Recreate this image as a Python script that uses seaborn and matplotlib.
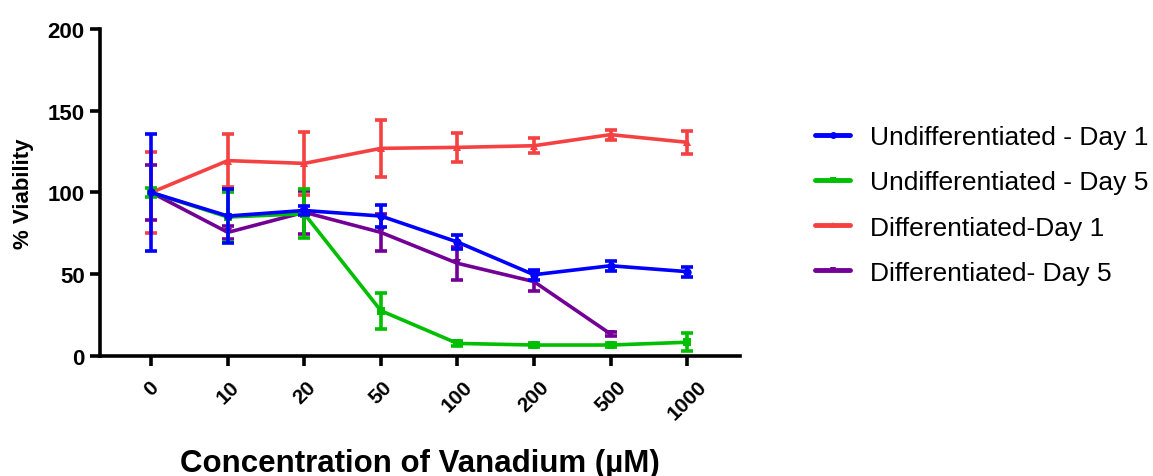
import numpy as np
import pandas as pd
import matplotlib
matplotlib.use("Agg")
import matplotlib.pyplot as plt
import seaborn as sns
from matplotlib.lines import Line2D

categories = ["0", "10", "20", "50", "100", "200", "500", "1000"]

undiff_d1 = [100, 85.6, 89, 85.6, 69.7, 49.7, 55.2, 51.6]
undiff_d1_err = [36, 16.5, 3, 7, 4, 3, 3, 3]

undiff_d5 = [100, 85, 87, 27.7, 7.7, 6.7, 6.7, 8.4]
undiff_d5_err = [3, 15, 15, 11, 1.5, 1.5, 1.5, 5.5]

diff_d1 = [100, 119.5, 117.8, 127, 127.6, 128.6, 135.4, 130.7]
diff_d1_err = [25, 16, 19.5, 17.5, 9, 4.5, 3, 7]

diff_d5 = [100, 75.6, 87.9, 75.6, 56.7, 45.5, 13.5]
diff_d5_err = [17, 4, 13, 11.5, 10, 6, 1]

series_names = ["Undifferentiated - Day 1", "Undifferentiated - Day 5",
                "Differentiated-Day 1", "Differentiated- Day 5"]
series_vals = [undiff_d1, undiff_d5, diff_d1, diff_d5]
series_errs = [undiff_d1_err, undiff_d5_err, diff_d1_err, diff_d5_err]
colors = ["#0000FF", "#00BF00", "#F54141", "#730096"]
markers = ["o", "s", "^", "v"]

sns.set_theme(style="ticks")
plt.rcParams["font.family"] = ["Liberation Sans", "DejaVu Sans"]
plt.rcParams["text.color"] = "black"
plt.rcParams["axes.labelcolor"] = "black"
plt.rcParams["xtick.color"] = "black"
plt.rcParams["ytick.color"] = "black"

rows = []
for name, vals in zip(series_names, series_vals):
    for i, v in enumerate(vals):
        rows.append({"pos": i, "value": v, "series": name})
df = pd.DataFrame(rows)

fig = plt.figure(figsize=(11.53, 4.77), dpi=100)
ax = fig.add_axes([0.0867, 0.2516, 0.555, 0.6855])

draw_order = [3, 2, 1, 0]
for k in draw_order:
    name = series_names[k]
    sub = df[df.series == name]
    sns.lineplot(data=sub, x="pos", y="value", color=colors[k], marker=markers[k],
                 markersize=6, markeredgewidth=0, linewidth=2.6, ax=ax,
                 legend=False, zorder=3 + (3 - k))
    ax.errorbar(sub["pos"], sub["value"], yerr=series_errs[k], fmt="none",
                ecolor=colors[k], elinewidth=2.6, capsize=4, capthick=2.6,
                zorder=3 + (3 - k))

ax.set_xlim(-0.67, 7.69)
ax.set_ylim(0, 200)
ax.set_yticks([0, 50, 100, 150, 200])
ax.set_xticks(range(len(categories)))
ax.set_xticklabels(categories, rotation=45, ha="center", va="top",
                   fontsize=15, fontweight="bold", color="black")
for lab in ax.get_yticklabels():
    lab.set_fontsize(16)
    lab.set_fontweight("bold")
    lab.set_color("black")

sns.despine(ax=ax)
for s in ["left", "bottom"]:
    ax.spines[s].set_linewidth(2.6)
    ax.spines[s].set_color("black")
ax.tick_params(axis="both", width=2.6, length=7, color="black", pad=4)
ax.tick_params(axis="x", pad=8)

ax.set_ylabel("% Viability", fontsize=16, fontweight="bold", labelpad=10,
              color="black")
ax.set_xlabel("Concentration of Vanadium (µM)", fontsize=22.5,
              fontweight="bold", labelpad=18, color="black")

handles = [Line2D([0], [0], color=c, marker=m, markersize=5, linewidth=3.5,
                  markeredgewidth=0)
           for c, m in zip(colors, markers)]
fig.legend(handles, series_names, loc="upper left",
           bbox_to_anchor=(0.686, 0.785), frameon=False, fontsize=19,
           handlelength=1.35, handletextpad=0.75, labelspacing=0.8)

fig.savefig("out.png", dpi=100)
